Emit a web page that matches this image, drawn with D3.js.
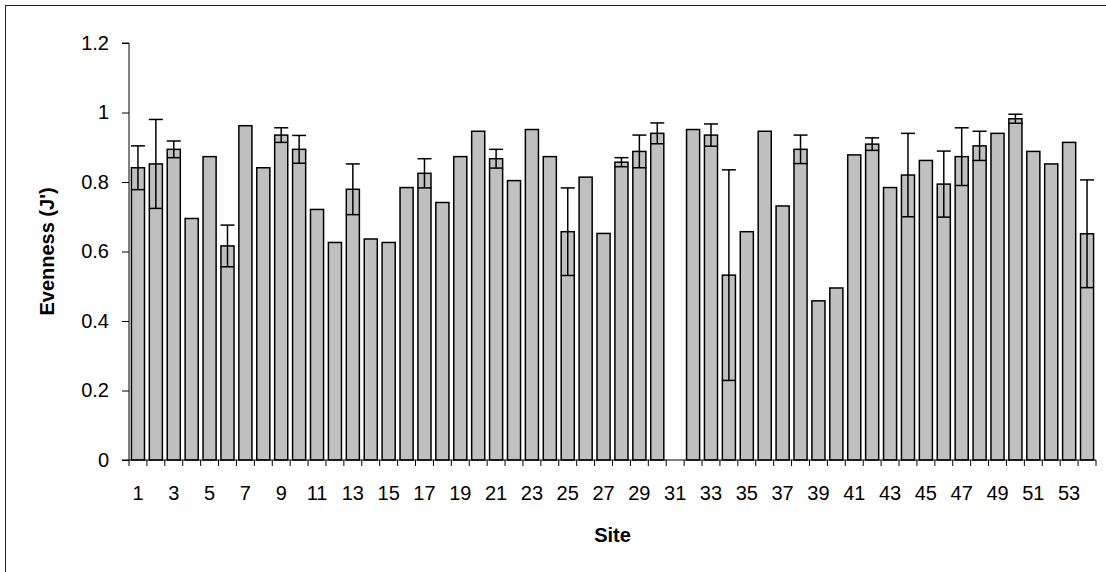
<!DOCTYPE html>
<html>
<head>
<meta charset="utf-8">
<script src="https://cdn.jsdelivr.net/npm/d3@7"></script>
<style>
  html, body { margin: 0; padding: 0; background: #fff; }
  svg { display: block; font-family: "Liberation Sans", Arial, sans-serif; }
</style>
</head>
<body>
<svg id="chart" width="1106" height="572"></svg>
<script>
// Data
const sites = d3.range(1, 55);
const evenness = [
  0.841, 0.852, 0.894, 0.695, 0.873, 0.616, 0.962, 0.841, 0.935, 0.894,
  0.721, 0.626, 0.779, 0.636, 0.626, 0.784, 0.825, 0.741, 0.873, 0.946,
  0.867, 0.804, 0.951, 0.873, 0.657, 0.814, 0.652, 0.857, 0.888, 0.940,
  null, 0.951, 0.935, 0.532, 0.657, 0.946, 0.731, 0.894, 0.458, 0.495,
  0.878, 0.909, 0.784, 0.820, 0.862, 0.794, 0.873, 0.904, 0.940, 0.982,
  0.888, 0.852, 0.914, 0.651
];
const errors = [
  0.063, 0.128, 0.024, null, null, 0.060, null, null, 0.021, 0.040,
  null, null, 0.073, null, null, null, 0.042, null, null, null,
  0.027, null, null, null, 0.126, null, null, 0.013, 0.047, 0.030,
  null, null, 0.032, 0.303, null, null, null, 0.041, null, null,
  null, 0.018, null, 0.120, null, 0.095, 0.083, 0.042, null, 0.013,
  null, null, null, 0.155
];
const yTicks = [0, 0.2, 0.4, 0.6, 0.8, 1, 1.2];
const xTickLabels = sites.filter(s => s % 2 === 1);
const yTitle = "Evenness (J')";
const xTitle = "Site";

const svg = d3.select("#chart");

// outer frame (extends past the right/bottom edges)
svg.append("rect")
  .attr("x", 5.5).attr("y", 5.5)
  .attr("width", 1200).attr("height", 700)
  .attr("fill", "none").attr("stroke", "#222").attr("stroke-width", 1);

const x0 = 129, x1 = 1096, yTop = 43, yBot = 460;

const x = d3.scaleBand()
  .domain(sites)
  .range([x0, x1])
  .paddingInner(0.27)
  .paddingOuter(0.135);

const y = d3.scaleLinear().domain([0, 1.2]).range([yBot, yTop]);

// bars
const data = sites.map((s, i) => ({ site: s, v: evenness[i], e: errors[i] }));

svg.append("g").selectAll("rect")
  .data(data.filter(d => d.v != null))
  .join("rect")
  .attr("x", d => x(d.site))
  .attr("y", d => y(d.v))
  .attr("width", x.bandwidth())
  .attr("height", d => y(0) - y(d.v))
  .attr("fill", "#c0c0c0")
  .attr("stroke", "#000")
  .attr("stroke-width", 1.5);

// error bars
const capW = 14;
const eg = svg.append("g").attr("stroke", "#000").attr("stroke-width", 1.5);
data.filter(d => d.v != null && d.e != null).forEach(d => {
  const cx = x(d.site) + x.bandwidth() / 2;
  eg.append("line").attr("x1", cx).attr("x2", cx)
    .attr("y1", y(d.v + d.e)).attr("y2", y(d.v - d.e));
  eg.append("line").attr("x1", cx - capW / 2).attr("x2", cx + capW / 2)
    .attr("y1", y(d.v + d.e)).attr("y2", y(d.v + d.e));
  eg.append("line").attr("x1", cx - capW / 2).attr("x2", cx + capW / 2)
    .attr("y1", y(d.v - d.e)).attr("y2", y(d.v - d.e));
});

// y axis
const yAxis = d3.axisLeft(y)
  .tickValues(yTicks)
  .tickSize(7)
  .tickPadding(13)
  .tickFormat(d => d3.format("")(+d.toFixed(1)));
const yg = svg.append("g").attr("transform", `translate(${x0},0)`).call(yAxis);
yg.select(".domain").attr("stroke", "#000").attr("d", `M-7,${yTop}H0V${yBot}H-7`);
yg.selectAll(".tick line").attr("stroke", "#000");
yg.selectAll(".tick text").attr("font-size", 20).attr("fill", "#000")
  .attr("font-family", "Liberation Sans, Arial, sans-serif");

// x axis
const step = x.step();
const xg = svg.append("g");
xg.append("line").attr("x1", x0).attr("x2", x1).attr("y1", yBot).attr("y2", yBot)
  .attr("stroke", "#000");
xg.selectAll("line.tk").data(d3.range(0, sites.length + 1)).join("line")
  .attr("class", "tk")
  .attr("x1", k => x0 + k * step).attr("x2", k => x0 + k * step)
  .attr("y1", yBot).attr("y2", yBot + 6)
  .attr("stroke", "#000");
xg.selectAll("text").data(xTickLabels).join("text")
  .attr("x", s => x(s) + x.bandwidth() / 2)
  .attr("y", 500)
  .attr("text-anchor", "middle")
  .attr("font-size", 20)
  .attr("fill", "#000")
  .text(s => s);

// titles
svg.append("text")
  .attr("transform", `translate(54,${(yTop + yBot) / 2}) rotate(-90)`)
  .attr("text-anchor", "middle")
  .attr("font-size", 20).attr("font-weight", "bold")
  .text(yTitle);

svg.append("text")
  .attr("x", (x0 + x1) / 2).attr("y", 542)
  .attr("text-anchor", "middle")
  .attr("font-size", 20).attr("font-weight", "bold")
  .text(xTitle);
</script>
</body>
</html>
